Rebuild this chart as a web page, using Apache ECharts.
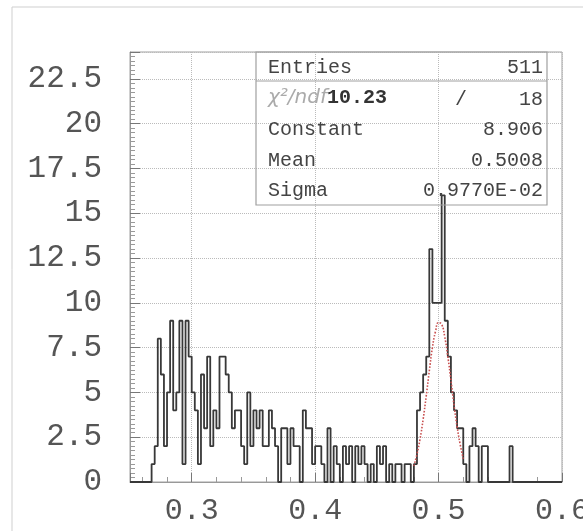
<!DOCTYPE html>
<html>
<head>
<meta charset="utf-8">
<script src="https://cdn.jsdelivr.net/npm/echarts@6/dist/echarts.min.js"></script>
<style>
  html, body { margin: 0; padding: 0; background: #fff; }
  #grafico { width: 583px; height: 531px; }
</style>
</head>
<body>
<div id="grafico"></div>
<script>
// histograma: bins de 0.0025 desde 0.25
var binStart = 0.25;
var binWidth = 0.0025;
var counts = [
  0, 0, 0, 0, 0, 0, 0, 1, 2, 8,
  6, 2, 5, 9, 4, 5, 9, 1, 9, 7,
  5, 4, 1, 6, 3, 7, 2, 4, 3, 7,
  7, 6, 5, 3, 4, 4, 2, 1, 5, 2,
  4, 3, 4, 2, 2, 4, 3, 2, 0, 3,
  3, 1, 3, 2, 2, 0, 4, 3, 3, 1,
  2, 2, 1, 0, 3, 0, 2, 1, 0, 2,
  1, 2, 0, 2, 1, 2, 1, 0, 1, 0,
  2, 1, 2, 0, 1, 0, 1, 1, 0, 1,
  1, 0, 1, 4, 5, 6, 7, 13, 10, 10,
  10, 16, 9, 7, 5, 4, 3, 3, 1, 0,
  2, 3, 2, 0, 2, 2, 0, 0, 0, 0,
  0, 0, 0, 2, 0, 0, 0, 0, 0, 0,
  0, 0, 0, 0, 0, 0, 0, 0, 0, 0
];

// curva del ajuste gaussiano
var fitX = [0.48, 0.4825, 0.485, 0.4875, 0.49, 0.4925, 0.495, 0.4975, 0.5, 0.5025, 0.505, 0.5075, 0.51, 0.5125, 0.515, 0.5175, 0.52];
var fitY = [0.9, 1.55, 2.4, 3.5, 4.8, 6.2, 7.5, 8.4, 8.9, 8.8, 8.1, 7.0, 5.7, 4.3, 3.1, 2.1, 1.3];

// cuadro de estadisticas
var statNames = ["Entries", "Constant", "Mean", "Sigma"];
var statValues = ["511", "8.906", "0.5008", "0.9770E-02"];
var chi2 = "10.23";
var ndf = "18";

var fuente = "Liberation Mono";

// contorno escalonado del histograma
var stepData = [];
for (var i = 0; i < counts.length; i++) {
  var lo = binStart + i * binWidth;
  stepData.push([lo, counts[i]]);
  stepData.push([lo + binWidth, counts[i]]);
}
var fitData = fitX.map(function (x, k) { return [x, fitY[k]]; });

var myChart = echarts.init(document.getElementById("grafico"));

var textStyle = { fontFamily: fuente, fontSize: 20, fill: "#444" };

var option = {
  animation: false,
  backgroundColor: "#fff",
  grid: {
    left: 130, right: 21, top: 52, bottom: 49,
    outerBoundsMode: "none",
    containLabel: false,
    show: true, borderColor: "#a0a0a0", borderWidth: 1
  },
  xAxis: {
    type: "value",
    min: 0.25, max: 0.6,
    splitNumber: 4,
    axisLine: { show: true, onZero: false, lineStyle: { color: "#999" } },
    axisTick: { show: true, inside: true, length: 9, lineStyle: { color: "#777" } },
    minorTick: { show: true, splitNumber: 5, length: 5, lineStyle: { color: "#999" } },
    splitLine: { show: true, lineStyle: { type: "dotted", color: "#bbb" } },
    axisLabel: {
      showMinLabel: false,
      hideOverlap: false,
      fontFamily: fuente, fontSize: 30, color: "#555", margin: 14,
      formatter: function (v) { return v.toFixed(1); }
    }
  },
  yAxis: {
    type: "value",
    min: 0, max: 24, interval: 2.5,
    axisLine: { show: true, lineStyle: { color: "#999" } },
    axisTick: { show: true, inside: true, length: 10, lineStyle: { color: "#777" } },
    minorTick: { show: true, splitNumber: 10, length: 5, lineStyle: { color: "#999" } },
    splitLine: { show: true, lineStyle: { type: "dotted", color: "#bbb" } },
    axisLabel: {
      showMaxLabel: false,
      fontFamily: fuente, fontSize: 31, color: "#555", margin: 28,
      formatter: function (v) { return String(v); }
    }
  },
  series: [
    {
      name: "hist",
      type: "line",
      data: stepData,
      symbol: "none",
      lineStyle: { color: "#383838", width: 1.8 },
      z: 3
    },
    {
      name: "fit",
      type: "line",
      data: fitData,
      smooth: true,
      symbol: "none",
      lineStyle: { color: "#c85050", width: 1.6, type: "dotted" },
      z: 4
    }
  ],
  graphic: [
    // marco exterior
    { type: "rect", shape: { x: 12, y: 7, width: 620, height: 600 },
      style: { fill: "none", stroke: "#cfcfcf", lineWidth: 1 }, silent: true },
    // cuadro de estadisticas
    { type: "rect", shape: { x: 256, y: 52, width: 291, height: 153 },
      style: { fill: "none", stroke: "#a0a0a0", lineWidth: 1.2 }, z: 10 },
    { type: "line", shape: { x1: 256, y1: 81, x2: 547, y2: 81 },
      style: { stroke: "#a0a0a0", lineWidth: 1 }, z: 10 },
    { type: "text", left: 268, top: 58, z: 11,
      style: Object.assign({ text: statNames[0] }, textStyle) },
    { type: "text", right: 40, top: 58, z: 11,
      style: Object.assign({ text: statValues[0] }, textStyle) },
    { type: "text", left: 268, top: 88, z: 11,
      style: {
        text: "{a|χ²/ndf}{b|" + chi2 + "}",
        rich: {
          a: { fontFamily: "DejaVu Sans", fontSize: 20, fill: "#aaa", fontStyle: "italic" },
          b: { fontFamily: fuente, fontSize: 20, fill: "#333", fontWeight: "bold" }
        }
      } },
    { type: "text", left: 455, top: 90, z: 11,
      style: Object.assign({ text: "/" }, textStyle) },
    { type: "text", right: 40, top: 90, z: 11,
      style: Object.assign({ text: ndf }, textStyle) },
    { type: "text", left: 268, top: 120, z: 11,
      style: Object.assign({ text: statNames[1] }, textStyle) },
    { type: "text", right: 40, top: 120, z: 11,
      style: Object.assign({ text: statValues[1] }, textStyle) },
    { type: "text", left: 268, top: 151, z: 11,
      style: Object.assign({ text: statNames[2] }, textStyle) },
    { type: "text", right: 40, top: 151, z: 11,
      style: Object.assign({ text: statValues[2] }, textStyle) },
    { type: "text", left: 268, top: 181, z: 11,
      style: Object.assign({ text: statNames[3] }, textStyle) },
    { type: "text", right: 40, top: 181, z: 11,
      style: Object.assign({ text: statValues[3] }, textStyle) }
  ]
};

myChart.setOption(option);
</script>
</body>
</html>
